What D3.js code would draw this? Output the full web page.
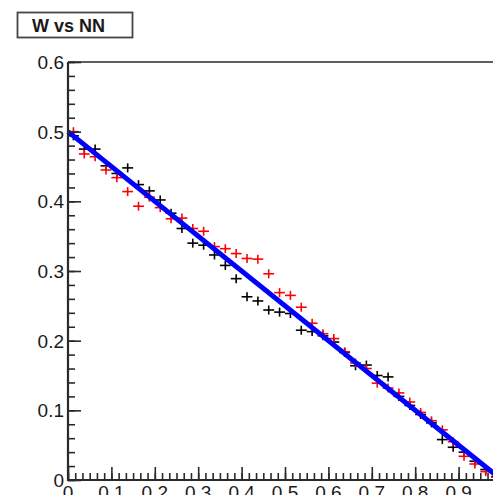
<!DOCTYPE html>
<html>
<head>
<meta charset="utf-8">
<script src="https://cdn.jsdelivr.net/npm/d3@7"></script>
<style>
html,body{margin:0;padding:0;background:#fff;}
svg{display:block;}
</style>
</head>
<body>
<svg id="chart" width="493" height="495"></svg>
<script>
// ---- data ----
const binCenters = [0.0125,0.0375,0.0625,0.0875,0.1125,0.1375,0.1625,0.1875,0.2125,0.2375,
  0.2625,0.2875,0.3125,0.3375,0.3625,0.3875,0.4125,0.4375,0.4625,0.4875,
  0.5125,0.5375,0.5625,0.5875,0.6125,0.6375,0.6625,0.6875,0.7125,0.7375,
  0.7625,0.7875,0.8125,0.8375,0.8625,0.8875,0.9125,0.9375,0.9625,0.9875];
const binHalfWidth = 0.0125;
const blackValues = [0.494,0.475,0.475,0.451,0.440,0.448,0.424,0.415,0.402,0.383,
  0.361,0.340,0.337,0.323,0.308,0.289,0.263,0.257,0.244,0.241,
  0.239,0.215,0.213,0.207,0.198,0.183,0.164,0.165,0.150,0.148,
  0.120,0.107,0.094,0.082,0.058,0.047,0.040,0.027,0.015,0.005];
const redValues = [0.500,0.468,0.464,0.445,0.434,0.414,0.393,0.406,0.391,0.375,
  0.376,0.361,0.357,0.335,0.332,0.325,0.318,0.317,0.296,0.269,
  0.265,0.248,0.225,0.210,0.203,0.184,0.168,0.160,0.139,0.132,
  0.125,0.112,0.097,0.085,0.072,0.055,0.034,0.023,0.012,0.004];
const lineX = [0, 1];
const lineY = [0.5, 0];
const xTicks = [0,0.1,0.2,0.3,0.4,0.5,0.6,0.7,0.8,0.9,1.0];
const xTickLabels = ["0","0.1","0.2","0.3","0.4","0.5","0.6","0.7","0.8","0.9","1"];
const yTicks = [0,0.1,0.2,0.3,0.4,0.5,0.6];
const yTickLabels = ["0","0.1","0.2","0.3","0.4","0.5","0.6"];
const title = "W vs NN";

(function(){
// ---- layout ----
const svg = d3.select("#chart");
const pLeft = 68, pRight = 502, pTop = 62, pBottom = 480;
const x = d3.scaleLinear().domain([0,1]).range([pLeft,pRight]);
const y = d3.scaleLinear().domain([0,0.6]).range([pBottom,pTop]);
const axisColor = "#2a2a2a";
const font = "'Liberation Sans', Arial, Helvetica, sans-serif";

// frame top line
svg.append("line").attr("x1",pLeft).attr("x2",pRight).attr("y1",pTop).attr("y2",pTop)
  .attr("stroke",axisColor).attr("stroke-width",1.6);

// ---- crosses ----
function drawCrosses(values, color){
  const g = svg.append("g").attr("stroke",color).attr("stroke-width",1.6);
  values.forEach((v,i)=>{
    const cx = binCenters[i];
    g.append("line").attr("x1",x(cx-binHalfWidth)).attr("x2",x(cx+binHalfWidth))
      .attr("y1",y(v)).attr("y2",y(v));
    g.append("line").attr("x1",x(cx)).attr("x2",x(cx))
      .attr("y1",y(v)-4.5).attr("y2",y(v)+4.5);
  });
}
drawCrosses(blackValues,"#000");
drawCrosses(redValues,"#ff0000");

// ---- fit line ----
const lineGen = d3.line().x((d,i)=>x(lineX[i])).y((d,i)=>y(lineY[i]));
svg.append("path").datum(lineX).attr("d",lineGen)
  .attr("fill","none").attr("stroke","#0000ff").attr("stroke-width",5);

// ---- y axis ----
const yAxis = d3.axisRight(y).tickValues(yTicks).tickSize(13).tickFormat("");
const yMinor = d3.axisRight(y).tickValues(d3.range(0,0.6001,0.02)).tickSize(7).tickFormat("");
const gyMinor = svg.append("g").attr("transform",`translate(${pLeft},0)`).call(yMinor);
const gy = svg.append("g").attr("transform",`translate(${pLeft},0)`).call(yAxis);
[gy,gyMinor].forEach(g=>{
  g.select(".domain").remove();
  g.selectAll("line").attr("stroke",axisColor).attr("stroke-width",1.6);
});
svg.append("line").attr("x1",pLeft).attr("x2",pLeft).attr("y1",pTop).attr("y2",pBottom+1)
  .attr("stroke",axisColor).attr("stroke-width",2.2);
svg.append("g").selectAll("text").data(yTicks).join("text")
  .attr("x",pLeft-4).attr("y",d=>y(d)).attr("dy","0.36em")
  .attr("text-anchor","end").attr("font-family",font).attr("font-size",19)
  .attr("fill","#1a1a1a").text((d,i)=>yTickLabels[i]);

// ---- x axis ----
const xMinorVals = d3.range(0,61).map(k=>k/60);
const xAxis = d3.axisTop(x).tickValues(xTicks).tickSize(13).tickFormat("");
const xMinor = d3.axisTop(x).tickValues(xMinorVals).tickSize(7).tickFormat("");
const gxMinor = svg.append("g").attr("transform",`translate(0,${pBottom})`).call(xMinor);
const gx = svg.append("g").attr("transform",`translate(0,${pBottom})`).call(xAxis);
[gx,gxMinor].forEach(g=>{
  g.select(".domain").remove();
  g.selectAll("line").attr("stroke",axisColor).attr("stroke-width",1.6);
});
svg.append("line").attr("x1",pLeft-1).attr("x2",pRight).attr("y1",pBottom).attr("y2",pBottom)
  .attr("stroke",axisColor).attr("stroke-width",2.2);
svg.append("g").selectAll("text").data(xTicks).join("text")
  .attr("x",d=>x(d)).attr("y",pBottom+18.5)
  .attr("text-anchor","middle").attr("font-family",font).attr("font-size",19)
  .attr("fill","#1a1a1a").text((d,i)=>xTickLabels[i]);

// ---- title box ----
svg.append("rect").attr("x",17.5).attr("y",12.5).attr("width",115).attr("height",25)
  .attr("fill","#fff").attr("stroke","#444").attr("stroke-width",1.8);
svg.append("text").attr("x",32).attr("y",31.5)
  .attr("font-family",font).attr("font-weight","bold").attr("font-size",18)
  .attr("fill","#1a1a1a").text(title);
})();
</script>
</body>
</html>
